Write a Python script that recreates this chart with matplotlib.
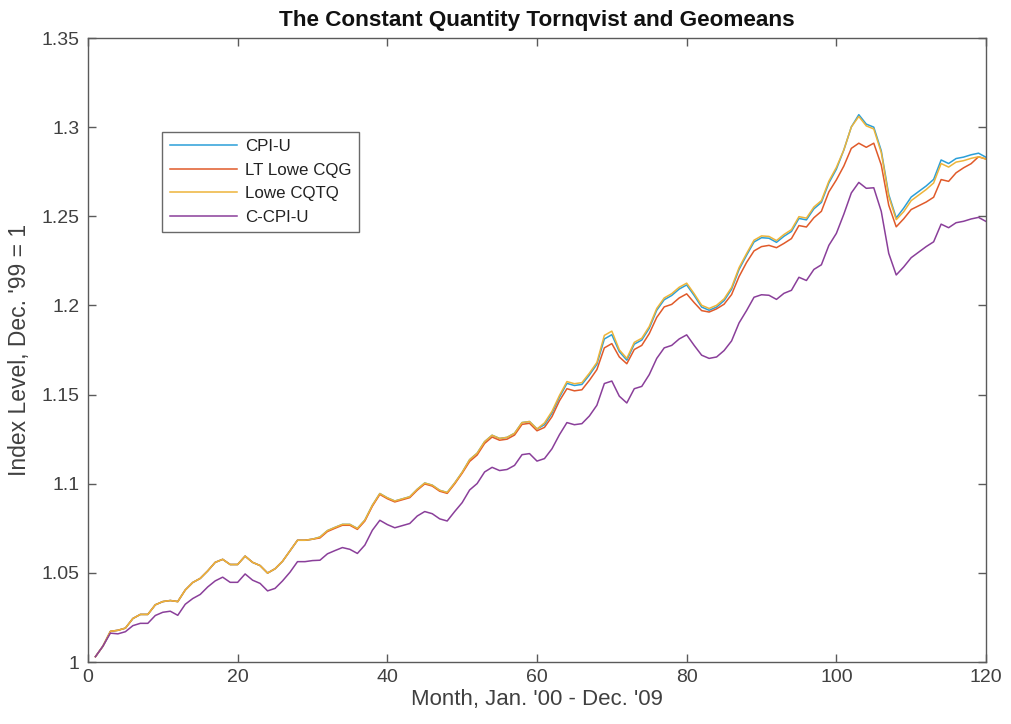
import matplotlib
matplotlib.use("Agg")
import matplotlib.pyplot as plt
from matplotlib.ticker import FuncFormatter

plt.rcParams['font.family'] = ['Liberation Sans', 'DejaVu Sans']

months = list(range(1, 121))

cpi_u = [
    1.0030, 1.0089, 1.0172, 1.0178, 1.0190, 1.0244, 1.0267, 1.0267, 1.0321, 1.0339, 1.0345, 1.0339,
    1.0404, 1.0446, 1.0469, 1.0511, 1.0559, 1.0576, 1.0547, 1.0547, 1.0594, 1.0559, 1.0541, 1.0499,
    1.0523, 1.0565, 1.0624, 1.0683, 1.0683, 1.0689, 1.0701, 1.0737, 1.0755, 1.0772, 1.0772, 1.0749,
    1.0796, 1.0879, 1.0945, 1.0921, 1.0903, 1.0915, 1.0927, 1.0969, 1.1004, 1.0992, 1.0963, 1.0951,
    1.1004, 1.1064, 1.1135, 1.1171, 1.1236, 1.1272, 1.1254, 1.1260, 1.1283, 1.1343, 1.1349, 1.1307,
    1.1331, 1.1396, 1.1485, 1.1563, 1.1551, 1.1557, 1.1610, 1.1670, 1.1812, 1.1836, 1.1741, 1.1693,
    1.1783, 1.1806, 1.1872, 1.1973, 1.2032, 1.2056, 1.2092, 1.2115, 1.2056, 1.1991, 1.1973, 1.1991,
    1.2027, 1.2091, 1.2202, 1.2281, 1.2356, 1.2380, 1.2377, 1.2354, 1.2388, 1.2415, 1.2488, 1.2480,
    1.2542, 1.2578, 1.2687, 1.2764, 1.2872, 1.3001, 1.3070, 1.3017, 1.3000, 1.2868, 1.2622, 1.2491,
    1.2546, 1.2608, 1.2639, 1.2670, 1.2707, 1.2816, 1.2796, 1.2824, 1.2832, 1.2845, 1.2854, 1.2831,
]

lt_lowe_cqg = [
    1.0030, 1.0089, 1.0172, 1.0178, 1.0190, 1.0244, 1.0267, 1.0267, 1.0321, 1.0339, 1.0345, 1.0339,
    1.0404, 1.0446, 1.0469, 1.0511, 1.0559, 1.0576, 1.0547, 1.0547, 1.0594, 1.0559, 1.0541, 1.0499,
    1.0523, 1.0565, 1.0624, 1.0683, 1.0683, 1.0689, 1.0696, 1.0732, 1.0750, 1.0767, 1.0767, 1.0744,
    1.0791, 1.0874, 1.0940, 1.0916, 1.0898, 1.0910, 1.0922, 1.0964, 1.0999, 1.0987, 1.0958, 1.0946,
    1.0999, 1.1059, 1.1125, 1.1161, 1.1226, 1.1262, 1.1244, 1.1250, 1.1273, 1.1333, 1.1339, 1.1297,
    1.1316, 1.1376, 1.1465, 1.1533, 1.1521, 1.1527, 1.1580, 1.1640, 1.1762, 1.1786, 1.1711, 1.1673,
    1.1753, 1.1776, 1.1842, 1.1933, 1.1992, 1.2006, 1.2042, 1.2065, 1.2016, 1.1971, 1.1963, 1.1981,
    1.2007, 1.2061, 1.2162, 1.2241, 1.2306, 1.2330, 1.2337, 1.2324, 1.2348, 1.2375, 1.2448, 1.2440,
    1.2492, 1.2528, 1.2637, 1.2704, 1.2782, 1.2881, 1.2910, 1.2887, 1.2910, 1.2788, 1.2562, 1.2441,
    1.2486, 1.2538, 1.2559, 1.2580, 1.2607, 1.2706, 1.2696, 1.2744, 1.2772, 1.2795, 1.2834, 1.2821,
]

lowe_cqtq = [
    1.0030, 1.0089, 1.0172, 1.0178, 1.0190, 1.0244, 1.0267, 1.0267, 1.0321, 1.0339, 1.0345, 1.0339,
    1.0404, 1.0446, 1.0469, 1.0511, 1.0559, 1.0576, 1.0547, 1.0547, 1.0594, 1.0559, 1.0541, 1.0499,
    1.0523, 1.0565, 1.0624, 1.0683, 1.0683, 1.0689, 1.0701, 1.0737, 1.0755, 1.0772, 1.0772, 1.0749,
    1.0796, 1.0879, 1.0945, 1.0921, 1.0903, 1.0915, 1.0927, 1.0969, 1.1004, 1.0992, 1.0963, 1.0951,
    1.1004, 1.1064, 1.1135, 1.1171, 1.1236, 1.1272, 1.1254, 1.1260, 1.1283, 1.1343, 1.1349, 1.1307,
    1.1341, 1.1406, 1.1495, 1.1573, 1.1561, 1.1567, 1.1620, 1.1680, 1.1832, 1.1856, 1.1751, 1.1703,
    1.1793, 1.1816, 1.1882, 1.1983, 1.2042, 1.2066, 1.2102, 1.2125, 1.2066, 1.2001, 1.1983, 1.2001,
    1.2037, 1.2101, 1.2212, 1.2291, 1.2366, 1.2390, 1.2387, 1.2364, 1.2398, 1.2425, 1.2498, 1.2490,
    1.2552, 1.2588, 1.2697, 1.2774, 1.2872, 1.3001, 1.3060, 1.3007, 1.2990, 1.2858, 1.2612, 1.2481,
    1.2526, 1.2588, 1.2619, 1.2650, 1.2687, 1.2796, 1.2776, 1.2804, 1.2812, 1.2825, 1.2834, 1.2821,
]

c_cpi_u = [
    1.0030, 1.0089, 1.0162, 1.0158, 1.0170, 1.0204, 1.0217, 1.0217, 1.0261, 1.0279, 1.0285, 1.0262,
    1.0324, 1.0356, 1.0379, 1.0421, 1.0455, 1.0476, 1.0447, 1.0447, 1.0494, 1.0459, 1.0441, 1.0399,
    1.0413, 1.0455, 1.0504, 1.0563, 1.0563, 1.0569, 1.0571, 1.0607, 1.0625, 1.0642, 1.0632, 1.0609,
    1.0656, 1.0739, 1.0795, 1.0771, 1.0753, 1.0765, 1.0777, 1.0819, 1.0844, 1.0832, 1.0803, 1.0791,
    1.0844, 1.0894, 1.0965, 1.1001, 1.1066, 1.1092, 1.1074, 1.1080, 1.1103, 1.1163, 1.1169, 1.1127,
    1.1141, 1.1196, 1.1275, 1.1343, 1.1331, 1.1337, 1.1380, 1.1440, 1.1562, 1.1576, 1.1491, 1.1453,
    1.1533, 1.1546, 1.1612, 1.1703, 1.1762, 1.1776, 1.1812, 1.1835, 1.1776, 1.1721, 1.1703, 1.1711,
    1.1747, 1.1801, 1.1902, 1.1971, 1.2046, 1.2060, 1.2057, 1.2034, 1.2068, 1.2085, 1.2158, 1.2140,
    1.2202, 1.2228, 1.2337, 1.2404, 1.2512, 1.2631, 1.2690, 1.2657, 1.2660, 1.2528, 1.2292, 1.2171,
    1.2216, 1.2268, 1.2299, 1.2330, 1.2357, 1.2456, 1.2436, 1.2464, 1.2472, 1.2485, 1.2494, 1.2471,
]

series_labels = ["CPI-U", "LT Lowe CQG", "Lowe CQTQ", "C-CPI-U"]
series_colors = ["#2b9fd8", "#e05a2a", "#edb43a", "#8a3f9a"]
x_ticks = [0, 20, 40, 60, 80, 100, 120]
y_ticks = [1.0, 1.05, 1.1, 1.15, 1.2, 1.25, 1.3, 1.35]

title_text = "The Constant Quantity Tornqvist and Geomeans"
x_label = "Month, Jan. '00 - Dec. '09"
y_label = "Index Level, Dec. '99 = 1"

fig = plt.figure(figsize=(10.11, 7.24), dpi=100)
ax = fig.add_axes([0.087, 0.0856, 0.8883, 0.8619])

for vals, lab, col in zip([cpi_u, lt_lowe_cqg, lowe_cqtq, c_cpi_u], series_labels, series_colors):
    ax.plot(months, vals, color=col, lw=1.1, label=lab)

ax.set_xlim(0, 120)
ax.set_ylim(1.0, 1.35)
ax.set_xticks(x_ticks)
ax.set_yticks(y_ticks)
ax.yaxis.set_major_formatter(FuncFormatter(lambda v, p: ("%.2f" % v).rstrip('0').rstrip('.')))

grey = "#404040"
for s in ax.spines.values():
    s.set_color("#5a5a5a")
    s.set_linewidth(1.0)
ax.tick_params(direction='in', length=6, width=1.0, colors="#5a5a5a", labelcolor=grey,
               labelsize=14, top=True, right=True)
ax.tick_params(axis='x', pad=5)
ax.tick_params(axis='y', pad=6)

ax.set_title(title_text, fontsize=16.2, fontweight='bold', color='#111111', pad=9)
ax.set_xlabel(x_label, fontsize=16, color=grey, labelpad=2)
ax.set_ylabel(y_label, fontsize=16.5, color=grey, labelpad=8)

leg = ax.legend(loc='upper left', bbox_to_anchor=(0.0825, 0.85), fontsize=12.2,
                frameon=True, fancybox=False, handlelength=4.0, handletextpad=0.45,
                labelspacing=0.5, borderpad=0.45, borderaxespad=0)
leg.get_frame().set_edgecolor("#444444")
leg.get_frame().set_linewidth(1.0)
for t in leg.get_texts():
    t.set_color("#222222")

fig.savefig("out.png", dpi=100)
